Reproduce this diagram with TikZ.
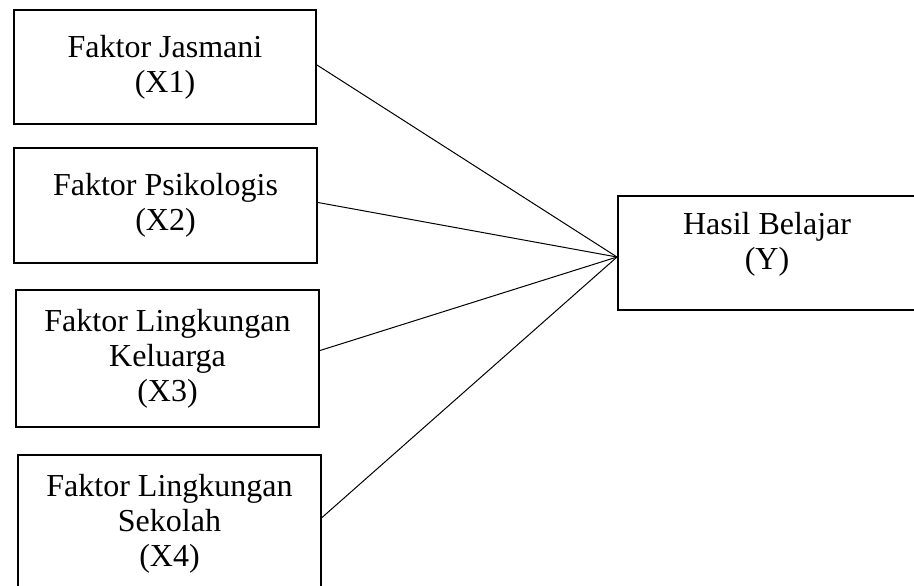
\documentclass[tikz,border=0pt]{standalone}
\usepackage{fontspec}
\setmainfont{Liberation Serif}
\usepackage{tikz}
\tikzset{
  kotak/.style={draw, line width=1pt, align=center, inner sep=0pt,
    font=\fontsize{16}{17.5}\selectfont},
  garis/.style={line width=0.5pt}
}
\begin{document}
\begin{tikzpicture}[x=0.5pt,y=-0.5pt]
\useasboundingbox (0,0) rectangle (914,585);
\clip (0,0) rectangle (914,585);
% faktor boxes
\node[kotak, minimum width=151pt, minimum height=57pt] (x1) at (165,67) {Faktor Jasmani\\(X1)};
\node[kotak, minimum width=151.5pt, minimum height=57.5pt] (x2) at (165.5,205.5) {Faktor Psikologis\\(X2)};
\node[kotak, minimum width=151.5pt, minimum height=68.5pt] (x3) at (167.5,358.5) {Faktor Lingkungan\\Keluarga\\(X3)};
\node[kotak, minimum width=151.5pt, minimum height=68.5pt] (x4) at (169.5,523.5) {Faktor Lingkungan\\Sekolah\\(X4)};
% hasil box
\node[kotak, minimum width=149pt, minimum height=57pt] (y) at (767,253) {Hasil Belajar\\(Y)\\[-5.5pt]};
% lines
\draw[garis] ([yshift=1pt]x1.east) -- ([yshift=-2pt]y.west);
\draw[garis] ([yshift=1.5pt]x2.east) -- ([yshift=-2pt]y.west);
\draw[garis] ([yshift=4pt]x3.east) -- ([yshift=-2pt]y.west);
\draw[garis] ([yshift=3pt]x4.east) -- ([yshift=-2pt]y.west);
\end{tikzpicture}
\end{document}
